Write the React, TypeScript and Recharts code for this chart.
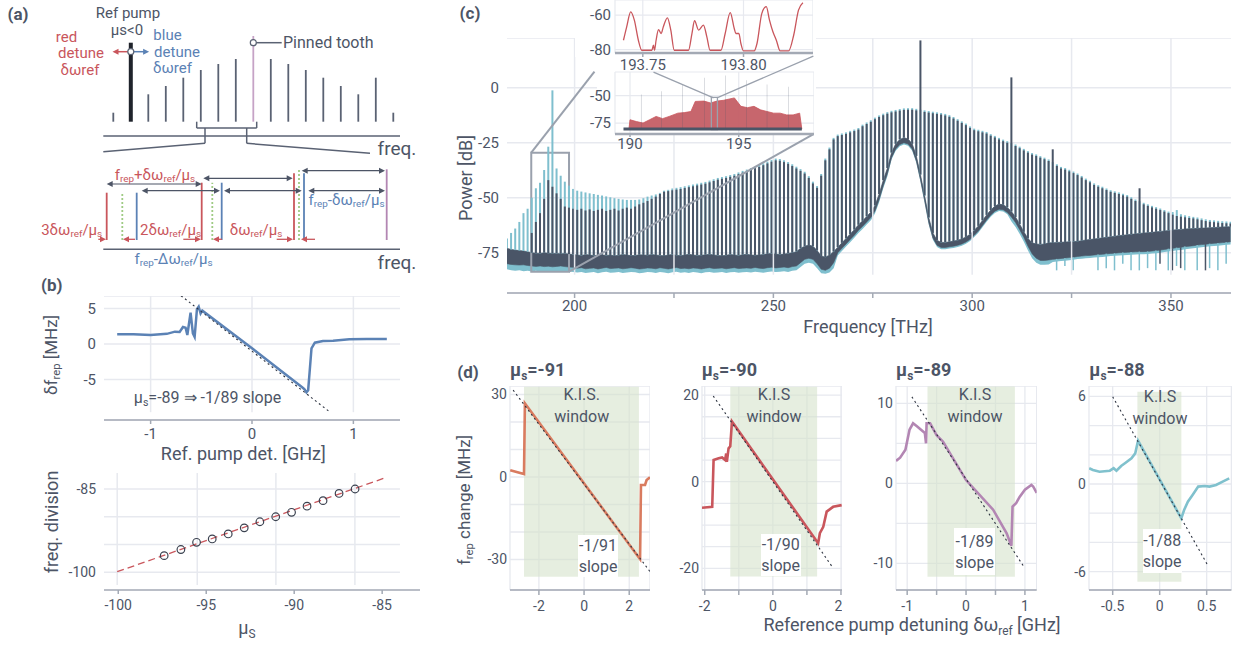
import React from "react";
import {
  ComposedChart,
  Line,
  Area,
  Bar,
  Scatter,
  XAxis,
  YAxis,
  CartesianGrid,
  ReferenceLine,
  ReferenceArea,
  ReferenceDot,
} from "recharts";

const FONT = "Roboto, 'Noto Sans', sans-serif";
const TEXT = "#4d5566";
const GRID = "#e7e9ef";
const AXIS = "#a3a9b4";
const DARK = "#4a5567";
const LIGHT = "#7fbfce";
const RED = "#c9565c";
const BLUE = "#5b82b5";
const GREEN = "#9fcb84";
const PIN = "#c6a3c6";
const ORANGE = "#d97b5f";
const MAUVE = "#b386b3";
const TEAL = "#80c1cd";
const KIS_FILL = "#d6e2cc";
const FIT = "#2d3340";

const NO_MARGIN = { top: 0, right: 0, bottom: 0, left: 0 };
const tick14 = { fontSize: 14, fill: TEXT };
const tick15 = { fontSize: 15, fill: TEXT };

// ---------- (a) schematic, in the panel's own drawing units ----------
const COMB_X0 = 113.3;
const COMB_DX = 17.5;
const COMB_BASE = 121.7;
const COMB_TOP = [112.7, 42.7, 94.3, 86, 77.7, 70, 64, 59, 36, 59, 64, 70, 77.7, 86, 94.3, 77.7, 112.7];
const PUMP_IDX = 1;
const PIN_IDX = 8;

const LOW_X = [106.7, 122.3, 136.7, 201.7, 212.3, 221.7, 294, 299, 304, 386.7];
const LOW_TOP = [192.7, 192.7, 192.7, 182.7, 182.7, 182.7, 173.3, 170, 173.3, 169.3];
const LOW_KIND = ["r", "g", "b", "r", "g", "b", "r", "g", "b", "m"];
const LOW_BASE = 240;
const SPAN_Y = [184, 190.7, 178.3, 190.7, 170.7, 190.7];
const SPAN_X1 = [106.7, 141.7, 203.3, 224, 301.7, 308.3];
const SPAN_X2 = [201.7, 220, 292.7, 301.7, 385, 385];
const NUDGE_FROM = [98.3, 135, 183.3, 222, 276.7, 315];
const NUDGE_TO = [106, 123, 201, 213, 293, 301];
const NUDGE_Y = 239.3;

// ---------- (b) ----------
const SWEEP_X = [-1.33, -1.17, -1.0, -0.84, -0.76, -0.714, -0.681, -0.655, -0.638, -0.606, -0.583, -0.566, -0.543, -0.526, -0.507, -0.49, 0.0, 0.504, 0.52, 0.537, 0.554, 0.57, 0.587, 0.62, 0.7, 0.8, 0.96, 1.13, 1.33];
const SWEEP_Y = [1.38, 1.38, 1.27, 1.43, 1.74, 1.7, 2.4, 2.3, 1.27, 4.4, 1.5, 1.0, 4.9, 5.25, 4.3, 4.7, -0.6, -6.2, -6.4, -6.8, -6.5, -3.66, -0.6, 0.19, 0.42, 0.47, 0.66, 0.7, 0.7];
const SWEEP_FIT_X = [-0.7, 0.77];
const SWEEP_FIT_Y = [6.8, -9.6];

const MU_S = [-97.39, -96.44, -95.55, -94.66, -93.75, -92.84, -91.95, -91.05, -90.15, -89.27, -88.36, -87.45, -86.54];
const DIVISION = [-97.0, -95.9, -94.6, -94.0, -93.1, -92.0, -90.9, -90.0, -89.2, -88.1, -87.1, -85.8, -85.0];
const TREND_X = [-100.06, -84.75];
const TREND_Y = [-99.9, -82.9];
const DIV_VGRID = [-100.06, -95.51, -91.04, -86.55];

// ---------- (c) comb spectrum ----------
const COMB_F0 = 183.0;
const COMB_FSR = 1.04;
// dark trace tooth peaks [dB]
const DARK_PEAK = [
  null, null, null, null, null, null, -66, -61, -57, -50.5,
  -42, -45, -48, -50.5, -54, -54.5, -55, -55.5, -55, -55.8,
  -55.3, -56, -55.5, -55, -56, -55.5, -55, -55.8, -55, -54.5,
  -55, -54, -53, -52.3, -51.5, -50.5, -49.5, -48.3, -47.3, -47,
  -46.6, -46.3, -46, -45.6, -45.2, -44.8, -44.4, -44, -43.6, -43,
  -42.4, -41.8, -41.4, -41, -40.5, -40, -39.3, -38.6, -38, -37.3,
  -36.6, -36, -35.2, -34.4, -33.6, -33, -33.2, -33.8, -34.6, -35.6,
  -36.7, -37.8, -39, -41, -43.5, -45.5, -40, -33, -28, -23.5,
  -22, -21.5, -21, -20.3, -19.7, -19, -17.5, -16.5, -15.5, -14.3,
  -13.3, -12.5, -11.8, -11.2, -10.8, -10.4, -10.1, -10, -10, -10.3,
  21.5, -11, -11.3, -11.6, -11.9, -12.2, -12.6, -13.2, -14, -15,
  -16, -17, -18.3, -19.3, -19.8, -20.3, -20.8, -21.8, -22.6, -23.5,
  -24.3, -25, 4.7, -26.5, -27.5, -28.5, -29.5, -30.4, -31, -31.8,
  -32.5, -33.3, -28, -35.5, -36.7, -37.2, -38, -38.8, -39.7, -40.8,
  -42, -43, -44.2, -45, -45.7, -46.5, -47.3, -47.8, -48.3, -48.9,
  -49.5, -50.5, -51.5, -45.7, -53, -53.7, -54.4, -55, -55.6, -56.3,
  -57, -57.7, -58.3, -58.6, -58.9, -59.2, -59.4, -59.8, -60.2, -60.6,
  -60.9, -61.1, -61.3, -61.5, -61.6, -61.7,
];
// light trace tooth peaks [dB]
const LIGHT_PEAK = [
  -68.5, -66, -64, -61, -57, -55, -50, -45.7, -43.2, -37.4,
  -26.8, -1.2, -36.7, -40, -42.7, -44.5, -46, -46.8, -47.2, -47.6,
  -48, -48.3, -48.7, -49, -49.4, -49.8, -50.2, -50.5, -50.8, -51,
  -51, -51, -50.8, -50.2, -49.5, -49, -48.5, -47.8, -46.8, -46.4,
  -45.8, -45.5, -45.2, -44.8, -44.4, -44, -43.6, -43.2, -42.8, -42.2,
  -41.6, -41, -40.6, -40.2, -39.7, -39.2, -38.5, -37.8, -37.2, -36.5,
  -35.8, -35.2, -34.4, -33.6, -32.8, -32.2, -32.4, -33, -33.8, -34.8,
  -35.9, -37, -38.2, -40.2, -42.7, -44.7, -39.2, -32.2, -27.2, -22.8,
  -21.3, -20.8, -20.3, -19.6, -19, -18.3, -16.8, -15.8, -14.8, -13.6,
  -12.6, -11.8, -11.1, -10.5, -10.1, -9.7, -9.4, -9.3, -9.3, -9.6,
  -10, -10.3, -10.6, -10.9, -11.2, -11.5, -11.9, -12.5, -13.3, -14.3,
  -15.3, -16.3, -17.6, -18.6, -19.1, -19.6, -20.1, -21.1, -21.9, -22.8,
  -23.6, -24.3, -25.2, -25.8, -26.8, -27.8, -28.8, -29.7, -30.3, -31.1,
  -31.8, -32.6, -33.8, -34.8, -36, -36.5, -37.3, -38.1, -39, -40.1,
  -41.3, -42.3, -43.5, -44.3, -45, -45.8, -46.6, -47.1, -47.6, -48.2,
  -48.8, -49.8, -50.8, -51.6, -52.3, -53, -53.7, -54.3, -54.9, -55.6,
  -56.3, -56.5, -55.6, -57.5, -58, -58.4, -58.7, -59, -59.4, -59.8,
  -60.1, -60.3, -60.5, -60.7, -60.8, -60.9,
];
// upper / lower edge of the dark background between teeth, per tooth
const DARK_HI = [
  -73, -73.5, -73.8, -74, -74.2, -74.5, -75, -75.2, -75.3, -75,
  -75.2, -75.4, -75.3, -75.5, -75.4, -75.6, -75.8, -76.0, -76.2, -75.8,
  -76.0, -76.3, -76.1, -75.9, -76.2, -76.0, -76.4, -76.1, -75.8, -76.0,
  -76.3, -76.2, -75.9, -76.0, -76.1, -75.8, -76.0, -76.2, -76.4, -76.0,
  -75.8, -76.1, -76.3, -76.0, -75.7, -76.0, -76.2, -76.1, -75.9, -75.7,
  -76.0, -76.2, -76.4, -76.1, -75.8, -76.0, -76.2, -75.9, -75.7, -76.0,
  -76.1, -76.0, -75.8, -75.5, -75.3, -75.6, -75.8, -75.6, -75.3, -75.0,
  -74.5, -73, -72, -71.5, -72, -74, -76.5, -77, -76, -74.5,
  -72.5, -70.5, -68.5, -66.5, -64.5, -62.3, -60.5, -58.5, -56.5, -53.5,
  -48.3, -42, -36.5, -29.5, -25.5, -23.5, -22.7, -23.3, -25.5, -31,
  -39.5, -49, -59, -66, -69.3, -70.3, -70.3, -70, -69.7, -69.3,
  -68.7, -67.8, -66.6, -64.8, -62.8, -60.3, -57.8, -55.6, -53.8, -52.9,
  -53.2, -54.4, -56.3, -58.8, -62, -65.5, -68.5, -70.5, -71, -71.2,
  -71, -70.5, -70.5, -70.3, -70.2, -70.1, -70, -69.9, -69.8, -69.5,
  -69.2, -69, -68.7, -68.5, -68.2, -68, -67.7, -67.5, -67.2, -67,
  -66.8, -66.6, -66.4, -66.2, -66, -65.9, -65.7, -65.5, -65.3, -65.1,
  -64.9, -64.7, -64.5, -64.4, -64.2, -64.1, -64, -63.9, -63.8, -63.7,
  -63.6, -63.5, -63.4, -63.3, -63.2, -63.2,
];
const DARK_LO = [
  -80, -80.3, -80.5, -80.6, -80.5, -80.8, -81, -81.2, -81, -81.3,
  -81.1, -81.4, -81.2, -81, -81.3, -81.5, -81.6, -82.0, -81.8, -82.3,
  -82.1, -81.9, -82.4, -82.0, -81.7, -82.2, -82.0, -81.9, -82.3, -82.1,
  -81.8, -82.0, -82.4, -82.2, -81.9, -82.0, -82.3, -81.8, -82.1, -82.4,
  -82.0, -81.7, -82.2, -82.0, -82.3, -81.9, -82.1, -82.4, -82.0, -81.8,
  -82.2, -82.1, -81.9, -82.3, -82.0, -81.8, -82.2, -82.0, -81.9, -82.1,
  -81.7, -82.0, -82.2, -81.8, -81.6, -81.9, -81.7, -81.5, -81.8, -81.3,
  -81, -79.5, -78, -77.5, -78, -80, -82.5, -83, -82, -79.5,
  -75, -73, -71, -69, -67, -64.8, -63, -61, -59, -56,
  -50.8, -44.5, -39, -31.8, -27.8, -25.8, -25, -25.6, -27.8, -33.3,
  -41.8, -51.3, -61.3, -68.3, -71.6, -72.6, -72.6, -72.3, -72, -71.6,
  -71, -70.1, -68.9, -67.1, -65.1, -62.6, -60.1, -57.9, -56.1, -55.2,
  -55.5, -56.7, -58.8, -61.3, -64.5, -68, -72, -75.5, -77.5, -78.5,
  -78.5, -78.3, -78, -77.8, -77.6, -77.4, -77.2, -77, -76.7, -76.5,
  -76.3, -76.2, -76, -75.8, -75.7, -75.5, -75.3, -75.2, -75, -74.9,
  -74.8, -74.7, -74.6, -74.5, -74.5, -74.4, -74.2, -74, -73.8, -73.5,
  -73.2, -73, -72.7, -72.5, -72.2, -72, -71.8, -71.5, -71.3, -71.1,
  -70.9, -70.7, -70.6, -70.4, -70.2, -70,
];
// lower edge of the light background, per tooth
const LIGHT_LO = [
  -82.5, -83, -83.2, -83, -83.4, -83.2, -83.5, -83.2, -83.6, -83.4,
  -83.8, -83.5, -83.6, -83.3, -83.7, -83.5, -83.8, -84.0, -83.7, -84.2,
  -84.0, -83.8, -84.3, -83.9, -83.6, -84.1, -84.0, -83.8, -84.2, -84.0,
  -83.7, -83.9, -84.3, -84.1, -83.8, -83.9, -84.2, -83.7, -84.0, -84.3,
  -83.9, -83.6, -84.1, -83.9, -84.2, -83.8, -84.0, -84.3, -83.9, -83.7,
  -84.1, -84.0, -83.8, -84.2, -83.9, -83.7, -84.1, -83.9, -83.8, -84.0,
  -83.6, -83.9, -84.1, -83.7, -83.5, -83.8, -83.6, -83.4, -83.7, -83.2,
  -83, -81.5, -80, -79.5, -80, -82, -84.3, -84.5, -84, -82,
  -76.2, -74.2, -72.2, -70.2, -68.2, -66, -64.2, -62.2, -60.2, -57.2,
  -52, -45.7, -40.2, -32.6, -28.6, -26.6, -25.8, -26.4, -28.6, -34.1,
  -42.6, -52.1, -62.1, -69.1, -72.4, -73.4, -73.4, -73.1, -72.8, -72.4,
  -71.8, -70.9, -69.7, -67.9, -65.9, -63.4, -60.9, -58.7, -56.9, -56,
  -56.3, -57.5, -60.8, -63.3, -66.5, -70, -74, -77.5, -79.5, -80.5,
  -80.5, -80.3, -79.2, -79, -78.8, -78.6, -78.4, -78.2, -77.9, -77.7,
  -77.5, -77.4, -77.2, -77, -76.9, -76.7, -76.5, -76.4, -76.2, -76.1,
  -76, -75.9, -75.8, -75.7, -75.7, -75.6, -75.4, -75.2, -75, -74.7,
  -74.4, -74.2, -73.9, -73.7, -73.4, -73.2, -73, -72.7, -72.5, -72.3,
  -72.1, -71.9, -71.8, -71.6, -71.4, -71.2,
];
// thin noise dropouts below the floor: tooth slot and depth [dB]
const LIGHT_DROP_IDX = [133, 135, 137, 143, 145, 147, 149, 151, 153, 155, 157, 160, 162, 164, 167, 170, 172, 174];
const LIGHT_DROP_P = [-83, -81, -83, -83, -82, -83, -80, -83, -83, -82, -83, -83, -81, -83, -83, -82, -83, -80];
const DARK_DROP_IDX = [158, 161, 163, 169];
const DARK_DROP_P = [-80, -83, -82, -83];

const SPEC_TICKS = [200, 225, 250, 275, 300, 325, 350];
const SPEC_YTICKS = [-75, -50, -25, 0];
const ZOOM_BOX = { f1: 189.1, f2: 198.6, p1: -83.6, p2: -29.5 };

// inset: 190-197.5 THz overview
const INSET_TOOTH_F = [190.51, 191.44, 192.43, 193.41, 194.38, 195.35, 196.3, 197.3];
const INSET_TOOTH_P = [-49.1, -46.1, -39.9, -33.8, -31.7, -36, -39.9, -42];
const INSET_FLOOR_P = -80.5;
const INSET_FLOOR_F = [189.7, 197.9];
const RED_F = [189.95, 190.0, 190.3, 190.6, 190.9, 191.2, 191.5, 191.8, 192.2, 192.5, 192.8, 193.0, 193.4, 193.7, 194.0, 194.3, 194.8, 195.1, 195.4, 195.7, 196.0, 196.3, 196.6, 196.9, 197.2, 197.5, 197.8, 197.9];
const RED_P = [-80.5, -72, -73.7, -75, -72, -69, -71, -69, -66, -65.5, -64.5, -55.3, -55, -56.7, -55, -54.3, -52.1, -59.8, -61, -59.8, -63, -64.5, -66, -66, -67.6, -67.6, -66, -80.5];

// inset: 193.75-193.80 THz close-up
const ZOOM_F = [193.7404, 193.742, 193.744, 193.7458, 193.7478, 193.7495, 193.7545, 193.7553, 193.7558, 193.7566, 193.7578, 193.7591, 193.7602, 193.7622, 193.7639, 193.7656, 193.7727, 193.7744, 193.7757, 193.7777, 193.7801, 193.7818, 193.7834, 193.7888, 193.7909, 193.7934, 193.7954, 193.7962, 193.7977, 193.7987, 193.8, 193.8053, 193.8067, 193.8091, 193.8113, 193.8129, 193.8146, 193.8163, 193.8182, 193.8224, 193.8249, 193.8273, 193.8295];
const ZOOM_P = [-74.6, -66.8, -58.1, -62.9, -74.6, -80.4, -80.4, -77.5, -80.4, -74.6, -68.4, -70.7, -66.8, -61.6, -68.7, -80.4, -80.4, -70.7, -63.3, -68.7, -65.8, -72.6, -80.4, -80.4, -70.7, -58.6, -67.8, -70.7, -70.7, -76.5, -80.8, -80.8, -76.5, -59, -55.1, -62.9, -69.7, -74.6, -80.8, -80.8, -71.7, -57.1, -52.8];

// ---------- (d) ----------
const P91_X = [-3.27, -2.66, -2.62, 2.48, 2.52, 2.7, 2.77, 2.92];
const P91_Y = [2.5, 1.1, 26.8, -29.9, -2.9, -2.9, -1.1, -0.1];
const P90_X = [-2.08, -1.78, -1.74, -1.59, -1.49, -1.4, -1.37, -1.35, -1.3, -1.25, -1.2, 1.33, 1.38, 1.48, 1.58, 1.77, 2.02];
const P90_Y = [-6.0, -5.8, 5.0, 5.4, 5.6, 5.0, 6.5, 4.6, 7.7, 8.2, 13.9, -14.2, -11.9, -10.4, -6.9, -5.8, -5.4];
const P89_X = [-1.19, -1.12, -1.03, -0.96, -0.9, -0.83, -0.75, -0.7, -0.68, -0.67, -0.61, -0.5, -0.39, 0.0, 0.46, 0.69, 0.77, 0.79, 0.85, 0.91, 1.0, 1.11, 1.14, 1.2];
const P89_Y = [2.8, 3.2, 4.2, 6.7, 7.5, 7.1, 6.6, 6.3, 5.0, 7.5, 7.5, 6.0, 5.2, 0.4, -3.3, -6.25, -7.8, -2.9, -2.5, -1.7, -0.8, -0.2, -0.4, -1.2];
const P88_X = [-0.75, -0.71, -0.64, -0.53, -0.49, -0.46, -0.41, -0.37, -0.3, -0.26, -0.23, 0.23, 0.26, 0.3, 0.35, 0.41, 0.48, 0.53, 0.6, 0.67, 0.74];
const P88_Y = [1.08, 0.96, 0.84, 0.91, 1.08, 0.91, 1.23, 1.42, 1.76, 2.1, 2.97, -2.35, -1.78, -1.21, -0.75, -0.18, -0.14, -0.18, -0.07, 0.16, 0.39];

const D_PANELS = [
  {
    mu: "-91", color: ORANGE, xs: P91_X, ys: P91_Y,
    fitX: [-3.14, 2.92], fitY: [31.6, -34.4], kisX: [-2.66, 2.43], kisY: [-36.3, 32.8],
    xDom: [-3.28, 2.92], yDom: [-41.1, 33.1],
    xTicks: [-2, 0, 2], xLabels: [-2, 0, 2],
    yTicks: [-30, -20, -10, 0, 10, 20, 30], yLabels: [-30, 0, 30],
    left: 510, right: 650, kis: "K.I.S.", kisAt: [581.7, 395], slope: "-1/91",
    box: [578, 535, 40, 42],
  },
  {
    mu: "-90", color: RED, xs: P90_X, ys: P90_Y,
    fitX: [-1.75, 1.73], fitY: [19.8, -19.5], kisX: [-1.25, 1.3], kisY: [-21.9, 21.9],
    xDom: [-2.08, 2.03], yDom: [-25.0, 22.1],
    xTicks: [-2, -1, 0, 1, 2], xLabels: [-2, 0, 2],
    yTicks: [-20, -15, -10, -5, 0, 5, 10, 15, 20], yLabels: [-20, 0, 20],
    left: 701.7, right: 841.7, kis: "K.I.S", kisAt: [774, 395], slope: "-1/90",
    box: [760.7, 534, 40, 42],
  },
  {
    mu: "-89", color: MAUVE, xs: P89_X, ys: P89_Y,
    fitX: [-0.92, 0.98], fitY: [10.8, -10.4], kisX: [-0.655, 0.83], kisY: [-11.7, 12.1],
    xDom: [-1.19, 1.2], yDom: [-13.34, 12.16],
    xTicks: [-1, -0.5, 0, 0.5, 1], xLabels: [-1, 0, 1],
    yTicks: [-10, -5, 0, 5, 10], yLabels: [-10, 0, 10],
    left: 896, right: 1036.7, kis: "K.I.S", kisAt: [975, 395], slope: "-1/89",
    box: [954, 528, 41, 47],
  },
  {
    mu: "-88", color: TEAL, xs: P88_X, ys: P88_Y,
    fitX: [-0.5, 0.51], fitY: [5.98, -5.55], kisX: [-0.237, 0.231], kisY: [-6.69, 6.32],
    xDom: [-0.752, 0.763], yDom: [-7.26, 6.71],
    xTicks: [-0.5, 0, 0.5], xLabels: [-0.5, 0, 0.5],
    yTicks: [-6, -4, -2, 0, 2, 4, 6], yLabels: [-6, 0, 6],
    left: 1089.3, right: 1231.7, kis: "K.I.S", kisAt: [1160, 397], slope: "-1/88",
    box: [1142.7, 529, 39, 44],
  },
];

const toRows = (xs: number[], ys: number[]) => xs.map((x, i) => ({ x, y: ys[i] }));

function Sub({ children }: any) {
  return <span style={{ fontSize: "0.66em", verticalAlign: "-0.28em" }}>{children}</span>;
}

function Txt({ x, y, children, size = 16, color = TEXT, bold = false, align = "center", rotate = false }: any) {
  const tx = align === "center" ? "-50%" : align === "right" ? "-100%" : "0%";
  return (
    <div
      style={{
        position: "absolute",
        left: x,
        top: y,
        transform: `translate(${tx}, -50%)${rotate ? " rotate(-90deg)" : ""}`,
        whiteSpace: "nowrap",
        fontSize: size,
        color,
        fontWeight: bold ? 700 : 400,
        lineHeight: 1,
      }}
    >
      {children}
    </div>
  );
}

function Head(props: any) {
  const { cx, cy, payload } = props;
  if (cx == null || cy == null) return null;
  const L = 6;
  const W = 3;
  const d = payload.dir;
  const pts = `${cx},${cy} ${cx - d * L},${cy - W} ${cx - d * L},${cy + W}`;
  return <polygon points={pts} fill={payload.c} />;
}

function SchematicPanel() {
  const lowColor: any = { r: RED, g: GREEN, b: BLUE, m: MAUVE };
  const heads: any[] = [];
  SPAN_Y.forEach((y, i) => {
    heads.push({ x: SPAN_X1[i], y, dir: -1, c: TEXT });
    heads.push({ x: SPAN_X2[i], y, dir: 1, c: TEXT });
  });
  NUDGE_TO.forEach((to, i) => heads.push({ x: to, y: NUDGE_Y, dir: to > NUDGE_FROM[i] ? 1 : -1, c: RED }));
  const pumpX = COMB_X0 + PUMP_IDX * COMB_DX;
  const pinX = COMB_X0 + PIN_IDX * COMB_DX;
  heads.push({ x: pumpX - 18.3, y: 51.7, dir: -1, c: RED });
  heads.push({ x: pumpX + 18.3, y: 51.7, dir: 1, c: BLUE });
  const seg = (x1: number, y1: number, x2: number, y2: number, stroke = TEXT, w = 1.5, dash?: string, key?: string) => (
    <ReferenceLine
      key={key ?? `${x1}-${y1}-${x2}-${y2}`}
      segment={[{ x: x1, y: y1 }, { x: x2, y: y2 }]}
      stroke={stroke}
      strokeWidth={w}
      strokeDasharray={dash}
      ifOverflow="visible"
    />
  );
  return (
    <div style={{ position: "absolute", left: 0, top: 0 }}>
      <ComposedChart width={420} height={275} margin={NO_MARGIN}>
        <XAxis type="number" dataKey="x" domain={[0, 420]} hide allowDataOverflow />
        <YAxis type="number" dataKey="y" domain={[0, 275]} reversed hide allowDataOverflow />
        {COMB_TOP.map((top, i) => {
          const x = COMB_X0 + i * COMB_DX;
          const stroke = i === PUMP_IDX ? "#1f232b" : i === PIN_IDX ? PIN : "#5a6273";
          return seg(x, COMB_BASE, x, top, stroke, i === PUMP_IDX ? 4 : 1.8, undefined, `comb${i}`);
        })}
        {seg(103.3, 136, 400, 136, "#5a6273", 1.5)}
        {seg(196.7, 121.7, 196.7, 128, "#5a6273", 1.5)}
        {seg(196.7, 128, 256.7, 128, "#5a6273", 1.5)}
        {seg(256.7, 121.7, 256.7, 128, "#5a6273", 1.5)}
        {seg(205, 128, 205, 143.3, "#5a6273", 1.5)}
        {seg(246.7, 128, 246.7, 143.3, "#5a6273", 1.5)}
        {seg(205, 143.3, 103.3, 151.7, "#5a6273", 1.5)}
        {seg(246.7, 143.3, 370, 153.3, "#5a6273", 1.5)}
        {seg(pinX, 42.7, 281.7, 42.7, "#5a6273", 1.5)}
        {seg(pumpX, 51.7, pumpX - 14, 51.7, RED, 1.5)}
        {seg(pumpX, 51.7, pumpX + 14, 51.7, BLUE, 1.5)}
        {seg(103.3, 249.3, 400, 249.3, "#5a6273", 1.5)}
        {LOW_X.map((x, i) =>
          seg(x, LOW_BASE, x, LOW_TOP[i], lowColor[LOW_KIND[i]], 1.8, LOW_KIND[i] === "g" ? "2 2" : undefined, `low${i}`)
        )}
        {SPAN_Y.map((y, i) => seg(SPAN_X1[i] + 3, y, SPAN_X2[i] - 3, y, TEXT, 1.2, undefined, `span${i}`))}
        {NUDGE_FROM.map((fx, i) => seg(fx, NUDGE_Y, NUDGE_TO[i] - (NUDGE_TO[i] > fx ? 3 : -3), NUDGE_Y, RED, 1.3, undefined, `nudge${i}`))}
        <ReferenceDot x={pumpX} y={51.7} r={3} fill="#fff" stroke="#5a6273" strokeWidth={1.2} ifOverflow="visible" />
        <ReferenceDot x={pinX} y={42.7} r={3} fill="#fff" stroke="#5a6273" strokeWidth={1.2} ifOverflow="visible" />
        <Scatter data={heads} shape={Head} isAnimationActive={false} />
      </ComposedChart>
    </div>
  );
}

function SweepPanel() {
  const rows = toRows(SWEEP_X, SWEEP_Y);
  const fit = toRows(SWEEP_FIT_X, SWEEP_FIT_Y);
  return (
    <div style={{ position: "absolute", left: 64, top: 296 }}>
      <ComposedChart width={336} height={154} margin={NO_MARGIN}>
        <CartesianGrid vertical={false} stroke={GRID} strokeWidth={1.5} />
        {[-1, 0, 1].map((v) => (
          <ReferenceLine key={v} segment={[{ x: v, y: -9.6 }, { x: v, y: 6.76 }]} stroke={GRID} strokeWidth={1.5} ifOverflow="visible" />
        ))}
        <XAxis
          type="number"
          dataKey="x"
          domain={[-1.46, 1.46]}
          ticks={[-1, 0, 1]}
          axisLine={{ stroke: AXIS, strokeWidth: 1.5 }}
          tickLine={{ stroke: AXIS, strokeWidth: 1.5 }}
          tickSize={4}
          tickMargin={4}
          tick={tick15}
          allowDataOverflow
        />
        <YAxis type="number" domain={[-10.7, 6.76]} ticks={[-5, 0, 5]} width={40} axisLine={false} tickLine={false} tick={tick15} allowDataOverflow />
        <Line data={rows} dataKey="y" stroke={BLUE} strokeWidth={2.5} dot={false} activeDot={false} isAnimationActive={false} />
        <Line data={fit} dataKey="y" stroke={FIT} strokeWidth={1.1} strokeDasharray="2 3" dot={false} activeDot={false} isAnimationActive={false} />
      </ComposedChart>
    </div>
  );
}

function Ring(props: any) {
  const { cx, cy } = props;
  if (cx == null || cy == null) return null;
  return <circle cx={cx} cy={cy} r={3.8} fill="none" stroke="#3b4250" strokeWidth={1.2} />;
}

function DivisionPanel() {
  const pts = toRows(MU_S, DIVISION);
  const trend = toRows(TREND_X, TREND_Y);
  return (
    <div style={{ position: "absolute", left: 64, top: 473 }}>
      <ComposedChart width={356} height={147} margin={NO_MARGIN}>
        {[-100, -95, -90, -85].map((v) => (
          <ReferenceLine key={"h" + v} segment={[{ x: -100.81, y: v }, { x: -83.99, y: v }]} stroke={GRID} strokeWidth={1.5} ifOverflow="visible" />
        ))}
        {DIV_VGRID.map((v) => (
          <ReferenceLine key={"v" + v} segment={[{ x: v, y: -102.3 }, { x: v, y: -82.12 }]} stroke={GRID} strokeWidth={1.5} ifOverflow="visible" />
        ))}
        <XAxis
          type="number"
          dataKey="x"
          domain={[-100.81, -82.85]}
          ticks={[-100, -95, -90, -85]}
          axisLine={{ stroke: AXIS, strokeWidth: 1.5 }}
          tickLine={{ stroke: AXIS, strokeWidth: 1.5 }}
          tickSize={4}
          tickMargin={6}
          tick={tick14}
          allowDataOverflow
        />
        <YAxis
          type="number"
          dataKey="y"
          domain={[-103.19, -82.12]}
          ticks={[-100, -85]}
          width={40}
          axisLine={false}
          tickLine={false}
          tick={tick14}
          allowDataOverflow
        />
        <Line data={trend} dataKey="y" stroke={RED} strokeWidth={1.3} strokeDasharray="7 4" dot={false} activeDot={false} isAnimationActive={false} />
        <Scatter data={pts} shape={Ring} isAnimationActive={false} />
      </ComposedChart>
    </div>
  );
}

const COMB_ROWS = DARK_PEAK.map((_, i) => {
  const li = LIGHT_DROP_IDX.indexOf(i);
  const di = DARK_DROP_IDX.indexOf(i);
  return {
    f: +(COMB_F0 + i * COMB_FSR).toFixed(2),
    dark: DARK_PEAK[i],
    light: LIGHT_PEAK[i],
    dHi: DARK_HI[i],
    dLo: DARK_LO[i],
    lLo: LIGHT_LO[i],
    lDrop: li >= 0 ? LIGHT_DROP_P[li] : null,
    dDrop: di >= 0 ? DARK_DROP_P[di] : null,
  };
});

function SpectrumPanel() {
  const dom = [183, 365.1];
  return (
    <div style={{ position: "absolute", left: 460, top: 38 }}>
      <ComposedChart width={771} height={285} data={COMB_ROWS} margin={NO_MARGIN}>
        <CartesianGrid xAxisId="a" vertical={false} stroke={GRID} strokeWidth={1.5} />
        {SPEC_TICKS.map((v) => (
          <ReferenceLine key={v} xAxisId="a" segment={[{ x: v, y: -85 }, { x: v, y: 22.6 }]} stroke={GRID} strokeWidth={1.5} ifOverflow="visible" />
        ))}
        <XAxis
          xAxisId="a"
          type="number"
          dataKey="f"
          domain={dom}
          ticks={SPEC_TICKS}
          tickFormatter={(v: number) => (v % 50 === 0 ? String(v) : "")}
          axisLine={{ stroke: AXIS, strokeWidth: 1.5 }}
          tickLine={{ stroke: AXIS, strokeWidth: 1.5 }}
          tickSize={5}
          tickMargin={2}
          tick={tick15}
          allowDataOverflow
        />
        <XAxis xAxisId="b" type="number" dataKey="f" domain={dom} hide allowDataOverflow />
        <XAxis xAxisId="c" type="number" dataKey="f" domain={dom} hide allowDataOverflow />
        <XAxis xAxisId="d" type="number" dataKey="f" domain={dom} hide allowDataOverflow />
        <YAxis type="number" domain={[-93.3, 22.6]} ticks={SPEC_YTICKS} width={47} axisLine={false} tickLine={false} tick={tick15} allowDataOverflow />
        <Area xAxisId="a" dataKey={(d: any) => [d.lLo, d.dHi]} stroke="none" fill={LIGHT} fillOpacity={1} dot={false} activeDot={false} isAnimationActive={false} />
        <Bar xAxisId="c" dataKey={(d: any) => (d.lDrop == null ? null : [d.lDrop, d.dLo])} fill={LIGHT} barSize={1.5} isAnimationActive={false} />
        <Bar xAxisId="a" dataKey={(d: any) => [d.dHi, d.light]} fill={LIGHT} barSize={2} isAnimationActive={false} />
        <Area xAxisId="a" dataKey={(d: any) => [d.dLo, d.dHi]} stroke={DARK} strokeWidth={0.6} fill={DARK} fillOpacity={1} dot={false} activeDot={false} isAnimationActive={false} />
        <Bar xAxisId="d" dataKey={(d: any) => (d.dDrop == null ? null : [d.dDrop, d.dLo])} fill={DARK} barSize={1.5} isAnimationActive={false} />
        <Bar xAxisId="b" dataKey={(d: any) => (d.dark == null ? null : [d.dHi, d.dark])} fill={DARK} barSize={2} isAnimationActive={false} />
        <ReferenceArea xAxisId="a" x1={ZOOM_BOX.f1} x2={ZOOM_BOX.f2} y1={ZOOM_BOX.p1} y2={ZOOM_BOX.p2} fill="none" fillOpacity={0} stroke="#9aa1ad" strokeWidth={2} ifOverflow="visible" />
        <ReferenceLine xAxisId="a" segment={[{ x: ZOOM_BOX.f1, y: ZOOM_BOX.p2 }, { x: 205.0, y: 7.3 }]} stroke="#9aa1ad" strokeWidth={2} ifOverflow="visible" />
        <ReferenceLine xAxisId="a" segment={[{ x: ZOOM_BOX.f2, y: ZOOM_BOX.p1 }, { x: 260.2, y: -21.0 }]} stroke="#9aa1ad" strokeWidth={2} ifOverflow="visible" />
      </ComposedChart>
    </div>
  );
}

function InsetPanels() {
  const zoomRows = ZOOM_F.map((f, i) => ({ f, p: ZOOM_P[i] }));
  const teeth = INSET_TOOTH_F.map((f, i) => ({ f, p: INSET_TOOTH_P[i] }));
  const red = RED_F.map((f, i) => ({ f, p: RED_P[i] }));
  const floor = INSET_FLOOR_F.map((f) => ({ f, p: INSET_FLOOR_P }));
  return (
    <>
      <div style={{ position: "absolute", left: 597, top: 0, width: 219, height: 135, background: "#fff" }} />
      <div style={{ position: "absolute", left: 575, top: 0, width: 22, height: 57, background: "#fff" }} />
      <div style={{ position: "absolute", left: 580, top: 0 }}>
        <ComposedChart width={233} height={83} margin={NO_MARGIN}>
          <CartesianGrid stroke={GRID} strokeWidth={1.2} />
          <XAxis
            type="number"
            dataKey="f"
            domain={[193.7362, 193.8345]}
            ticks={[193.75, 193.8]}
            tickFormatter={(v: number) => v.toFixed(2)}
            axisLine={{ stroke: AXIS, strokeWidth: 2.5 }}
            tickLine={{ stroke: AXIS, strokeWidth: 1.5 }}
            tickSize={4}
            tickMargin={2}
            tick={tick15}
            allowDataOverflow
          />
          <YAxis type="number" domain={[-82, -51.25]} ticks={[-80, -60]} width={35} tickSize={0} tickMargin={4} axisLine={false} tickLine={false} tick={tick15} allowDataOverflow />
          <Line data={zoomRows} dataKey="p" type="monotone" stroke={RED} strokeWidth={1.3} dot={false} activeDot={false} isAnimationActive={false} />
        </ComposedChart>
      </div>
      <div style={{ position: "absolute", left: 580, top: 52 }}>
        <ComposedChart width={234} height={112} data={teeth} margin={{ top: 20, right: 0, bottom: 0, left: 0 }}>
          <CartesianGrid stroke={GRID} strokeWidth={1.2} />
          <XAxis
            type="number"
            dataKey="f"
            domain={[189.31, 198.46]}
            ticks={[190, 195]}
            axisLine={{ stroke: AXIS, strokeWidth: 2.5 }}
            tickLine={{ stroke: AXIS, strokeWidth: 1.5 }}
            tickSize={3}
            tickMargin={1}
            tick={tick15}
            allowDataOverflow
          />
          <YAxis type="number" domain={[-85, -28.5]} ticks={[-75, -50]} width={35} tickSize={0} tickMargin={4} axisLine={false} tickLine={false} tick={tick15} allowDataOverflow />
          <Area data={red} dataKey={(d: any) => [INSET_FLOOR_P, d.p]} stroke={RED} strokeWidth={0.8} fill="#c45e65" fillOpacity={0.95} dot={false} activeDot={false} isAnimationActive={false} />
          <Bar dataKey={(d: any) => [INSET_FLOOR_P, d.p]} fill={DARK} barSize={2.5} isAnimationActive={false} />
          <Line data={floor} dataKey="p" stroke={DARK} strokeWidth={3} dot={false} activeDot={false} isAnimationActive={false} />
          <ReferenceArea x1={193.74} x2={194.02} y1={-81} y2={-51.6} fill="none" fillOpacity={0} stroke="#9aa1ad" strokeWidth={1.3} ifOverflow="visible" />
          <ReferenceLine segment={[{ x: 191.08, y: -28.7 }, { x: 193.84, y: -52.1 }]} stroke="#9aa1ad" strokeWidth={1.3} ifOverflow="visible" />
          <ReferenceLine segment={[{ x: 198.43, y: -14 }, { x: 194.0, y: -52.1 }]} stroke="#9aa1ad" strokeWidth={1.3} ifOverflow="visible" />
        </ComposedChart>
      </div>
    </>
  );
}

function DetuningPanel({ p }: any) {
  const rows = toRows(p.xs, p.ys);
  const fit = toRows(p.fitX, p.fitY);
  const yW = 30;
  return (
    <div style={{ position: "absolute", left: p.left - yW, top: 386 }}>
      <ComposedChart width={p.right - p.left + yW} height={234} margin={NO_MARGIN}>
        <CartesianGrid stroke={GRID} strokeWidth={1.3} />
        <ReferenceArea x1={p.kisX[0]} x2={p.kisX[1]} y1={p.kisY[0]} y2={p.kisY[1]} fill={KIS_FILL} fillOpacity={0.6} stroke="none" />
        <XAxis
          type="number"
          dataKey="x"
          domain={p.xDom}
          ticks={p.xTicks}
          tickFormatter={(v: number) => (p.xLabels.includes(v) ? String(v) : "")}
          axisLine={{ stroke: AXIS, strokeWidth: 1.5 }}
          tickLine={{ stroke: AXIS, strokeWidth: 1.5 }}
          tickSize={5}
          tickMargin={6}
          tick={tick14}
          allowDataOverflow
        />
        <YAxis
          type="number"
          domain={p.yDom}
          ticks={p.yTicks}
          tickFormatter={(v: number) => (p.yLabels.includes(v) ? String(v) : "")}
          width={yW}
          tickSize={0}
          tickMargin={3}
          axisLine={false}
          tickLine={false}
          tick={tick14}
          allowDataOverflow
        />
        <Line data={rows} dataKey="y" stroke={p.color} strokeWidth={2.6} dot={false} activeDot={false} isAnimationActive={false} />
        <Line data={fit} dataKey="y" stroke={FIT} strokeWidth={1.1} strokeDasharray="2 3" dot={false} activeDot={false} isAnimationActive={false} />
      </ComposedChart>
    </div>
  );
}

function Labels() {
  const mu = (
    <>
      μ<Sub>s</Sub>
    </>
  );
  const dw = (
    <>
      δω<Sub>ref</Sub>/μ<Sub>s</Sub>
    </>
  );
  return (
    <>
      {/* (a) */}
      <Txt x={18} y={14} size={17} bold>(a)</Txt>
      <Txt x={128} y={12.5} size={15}>Ref pump</Txt>
      <Txt x={127} y={29.5} size={15}>μs&lt;0</Txt>
      <Txt x={66.5} y={37} size={15} color={RED}>red</Txt>
      <Txt x={81} y={53.3} size={15} color={RED}>detune</Txt>
      <Txt x={80} y={69.5} size={15} color={RED}>δωref</Txt>
      <Txt x={167.5} y={35} size={15} color={BLUE}>blue</Txt>
      <Txt x={177} y={51.7} size={15} color={BLUE}>detune</Txt>
      <Txt x={172.5} y={68.4} size={15} color={BLUE}>δωref</Txt>
      <Txt x={283} y={43.3} align="left">Pinned tooth</Txt>
      <Txt x={397} y={148} size={19}>freq.</Txt>
      <Txt x={397} y={261.5} size={19}>freq.</Txt>
      <Txt x={155} y={176} size={15} color={RED}>f<Sub>rep</Sub>+{dw}</Txt>
      <Txt x={71.7} y={230.5} size={15} color={RED}>3{dw}</Txt>
      <Txt x={170.5} y={230.5} size={15} color={RED}>2{dw}</Txt>
      <Txt x={256} y={230.5} size={15} color={RED}>{dw}</Txt>
      <Txt x={346.5} y={201} size={15} color={BLUE}>f<Sub>rep</Sub>-{dw}</Txt>
      <Txt x={173.5} y={259.5} size={15} color={BLUE}>f<Sub>rep</Sub>-Δω<Sub>ref</Sub>/μ<Sub>s</Sub></Txt>

      {/* (b) */}
      <Txt x={51.7} y={285} size={17} bold>(b)</Txt>
      <Txt x={53} y={355} size={17} rotate>δf<Sub>rep</Sub> [MHz]</Txt>
      <Txt x={207.5} y={398.5} size={16}>{mu}=-89 ⇒ -1/89 slope</Txt>
      <Txt x={243.3} y={454} size={18}>Ref. pump det. [GHz]</Txt>
      <Txt x={52} y={522} size={18} rotate>freq. division</Txt>
      <Txt x={247} y={630} size={18}>μ<Sub>S</Sub></Txt>

      {/* (c) */}
      <Txt x={470} y={13} size={17} bold>(c)</Txt>
      <Txt x={466} y={178} size={18} rotate>Power [dB]</Txt>
      <Txt x={868} y={327} size={18}>Frequency [THz]</Txt>

      {/* (d) */}
      <Txt x={468} y={371.5} size={17} bold>(d)</Txt>
      <Txt x={466} y={500} size={17} rotate>f<Sub>rep</Sub> change [MHz]</Txt>
      <Txt x={912} y={627} size={18}>Reference pump detuning δω<Sub>ref</Sub> [GHz]</Txt>
      {D_PANELS.map((p) => (
        <React.Fragment key={p.mu}>
          <Txt x={p.left} y={371.5} size={18} bold align="left">{mu}={p.mu}</Txt>
          <Txt x={p.kisAt[0]} y={p.kisAt[1]} size={16}>{p.kis}</Txt>
          <Txt x={p.kisAt[0]} y={p.kisAt[1] + 21.7} size={16}>window</Txt>
          <div
            style={{
              position: "absolute",
              left: p.box[0],
              top: p.box[1],
              width: p.box[2],
              height: p.box[3],
              background: "#fff",
              display: "flex",
              flexDirection: "column",
              alignItems: "center",
              justifyContent: "center",
              fontSize: 16,
              lineHeight: "21px",
              color: TEXT,
            }}
          >
            <div>{p.slope}</div>
            <div>slope</div>
          </div>
        </React.Fragment>
      ))}
    </>
  );
}

export default function App() {
  return (
    <div
      style={{
        position: "absolute",
        left: 0,
        top: 0,
        width: 1245,
        height: 648,
        background: "#fff",
        fontFamily: FONT,
        color: TEXT,
        overflow: "hidden",
      }}
    >
      <SchematicPanel />
      <SweepPanel />
      <DivisionPanel />
      <SpectrumPanel />
      <InsetPanels />
      {D_PANELS.map((p) => (
        <DetuningPanel key={p.mu} p={p} />
      ))}
      <Labels />
    </div>
  );
}
